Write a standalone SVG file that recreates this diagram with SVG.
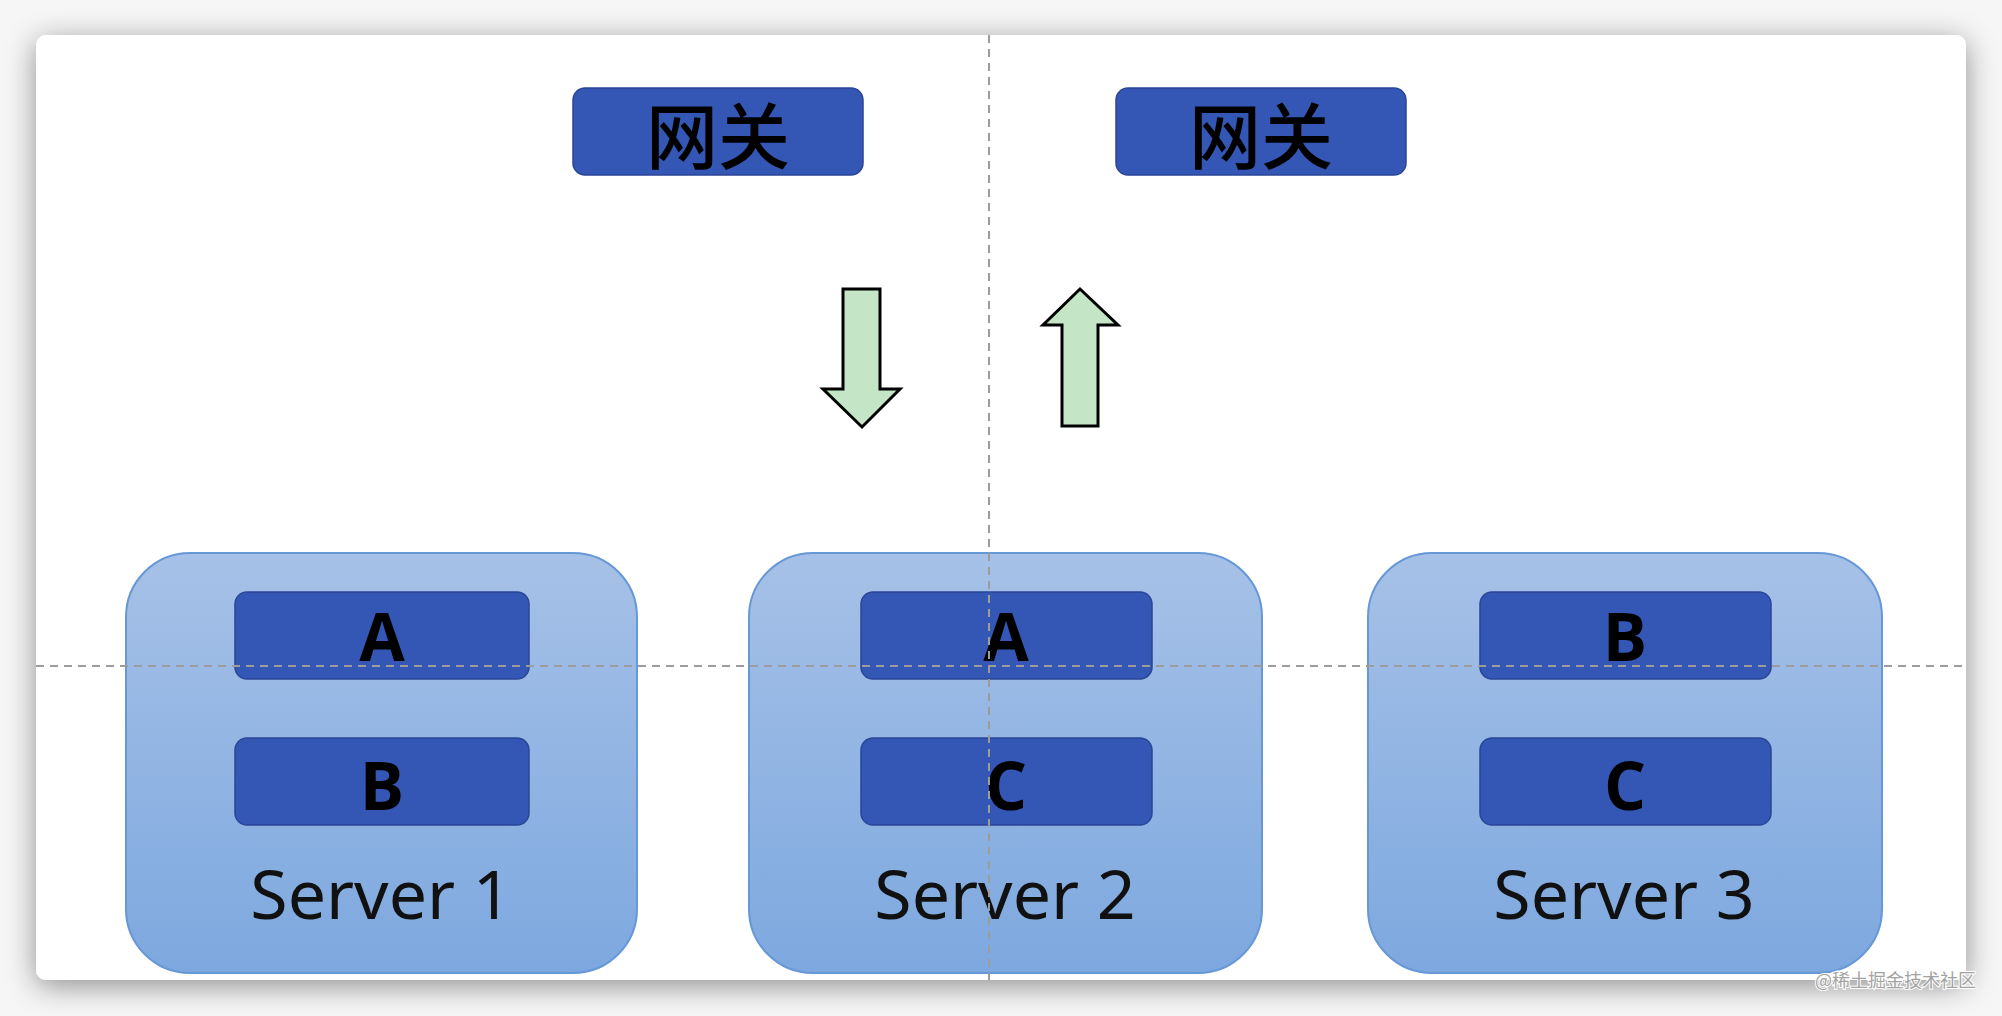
<svg xmlns="http://www.w3.org/2000/svg" width="2002" height="1016" viewBox="0 0 2002 1016">
  <defs>
    <filter id="shadow" x="-10%" y="-10%" width="120%" height="125%">
      <feDropShadow dx="0" dy="6" stdDeviation="15" flood-color="#000" flood-opacity="0.42"/>
    </filter>
    <linearGradient id="srvGrad" x1="0" y1="0" x2="0" y2="1">
      <stop offset="0" stop-color="#a6c1e7"/>
      <stop offset="1" stop-color="#7da8df"/>
    </linearGradient>
    <style>
      .server { fill: url(#srvGrad); stroke: #6697d6; stroke-width: 2; }
      .blk { fill: #3457b6; stroke: #2a4696; stroke-width: 1.5; }
      .gw-text { font-family: "Noto Sans CJK SC", "Noto Sans", sans-serif; font-size: 72px; font-weight: 500; fill: #000; text-anchor: middle; }
      .letter { font-family: "Open Sans", "Noto Sans", sans-serif; font-size: 66px; font-weight: 700; fill: #000; text-anchor: middle; }
      .srv-label { font-family: "Noto Sans", "Open Sans", sans-serif; font-size: 68px; fill: #111; text-anchor: middle; }
      .arrow { fill: #c4e5c6; stroke: #000; stroke-width: 3; stroke-linejoin: miter; }
      .guide { stroke: #9c9c9c; stroke-width: 2; stroke-dasharray: 8 6; fill: none; }
      .wm { font-family: "Noto Sans CJK SC", "Noto Sans", sans-serif; font-size: 18px; fill: #a3a3a3; stroke: #fff; stroke-width: 2; paint-order: stroke; }
    </style>
  </defs>

  <rect x="0" y="0" width="2002" height="1016" fill="#f6f6f6"/>
  <rect x="36" y="35" width="1930" height="945" rx="10" ry="10" fill="#ffffff" filter="url(#shadow)"/>

  <g id="gateway-1">
    <rect class="blk" x="573" y="88" width="290" height="87" rx="12" ry="12"/>
    <text class="gw-text" x="718" y="131" dominant-baseline="central">网关</text>
  </g>
  <g id="gateway-2">
    <rect class="blk" x="1116" y="88" width="290" height="87" rx="12" ry="12"/>
    <text class="gw-text" x="1261" y="131" dominant-baseline="central">网关</text>
  </g>

  <g id="server-1">
    <rect class="server" x="126" y="553" width="511" height="420" rx="64" ry="64"/>
    <rect class="blk" x="235" y="592" width="294" height="87" rx="12" ry="12"/>
    <text class="letter" x="382" y="661">A</text>
    <rect class="blk" x="235" y="738" width="294" height="87" rx="12" ry="12"/>
    <text class="letter" x="382" y="810">B</text>
    <text class="srv-label" x="381" y="919">Server 1</text>
  </g>
  <g id="server-2">
    <rect class="server" x="749" y="553" width="513" height="420" rx="64" ry="64"/>
    <rect class="blk" x="861" y="592" width="291" height="87" rx="12" ry="12"/>
    <text class="letter" x="1006" y="661">A</text>
    <rect class="blk" x="861" y="738" width="291" height="87" rx="12" ry="12"/>
    <text class="letter" x="1006" y="810">C</text>
    <text class="srv-label" x="1005" y="919">Server 2</text>
  </g>
  <g id="server-3">
    <rect class="server" x="1368" y="553" width="514" height="420" rx="64" ry="64"/>
    <rect class="blk" x="1480" y="592" width="291" height="87" rx="12" ry="12"/>
    <text class="letter" x="1625" y="661">B</text>
    <rect class="blk" x="1480" y="738" width="291" height="87" rx="12" ry="12"/>
    <text class="letter" x="1625" y="810">C</text>
    <text class="srv-label" x="1624" y="919">Server 3</text>
  </g>

  <g id="connectors">
    <polygon class="arrow" points="843,289 880,289 880,389 900,389 862,427 823,389 843,389"/>
    <polygon class="arrow" points="1080,289 1118,325 1098,325 1098,426 1062,426 1062,325 1043,325"/>
  </g>

  <g id="guides">
    <line class="guide" x1="989" y1="35" x2="989" y2="980"/>
    <line class="guide" x1="36" y1="666" x2="1966" y2="666"/>
  </g>

  <text class="wm" x="1815" y="987">@稀土掘金技术社区</text>
</svg>
